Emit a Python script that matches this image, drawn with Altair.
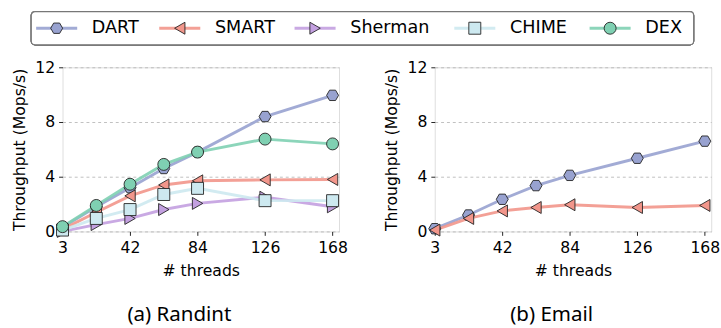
import altair as alt
import pandas as pd

threads = [3, 21, 42, 63, 84, 126, 168]
systems = ["DART", "SMART", "Sherman", "CHIME", "DEX"]
colors = ["#98a2d0", "#f2968b", "#c3a0e0", "#cde9f0", "#7fd0b2"]

# (a) Randint
randint_dart = [0.3, 1.8, 3.2, 4.6, 5.8, 8.4, 9.95]
randint_smart = [0.15, 1.4, 2.6, 3.4, 3.7, 3.77, 3.8]
randint_sherman = [0.0, 0.5, 0.95, 1.6, 2.05, 2.5, 1.8]
randint_chime = [0.1, 0.95, 1.6, 2.7, 3.15, 2.25, 2.25]
randint_dex = [0.35, 1.9, 3.45, 4.9, 5.8, 6.75, 6.4]

# (b) Email
email_dart = [0.2, 1.2, 2.35, 3.35, 4.1, 5.35, 6.6]
email_smart = [0.1, 0.95, 1.5, 1.75, 1.95, 1.75, 1.9]

x_ticks = [0, 42, 84, 126, 168]
y_ticks = [0, 4, 8, 12]

HEX = "M1,0 L0.5,0.866 L-0.5,0.866 L-1,0 L-0.5,-0.866 L0.5,-0.866 Z"
shapes = [HEX, "triangle-left", "triangle-right", "square", "circle"]

color_scale = alt.Scale(domain=systems, range=colors)
shape_scale = alt.Scale(domain=systems, range=shapes)


def frame(series):
    rows = []
    for name, vals in series:
        for t, v in zip(threads, vals):
            rows.append({"system": name, "threads": t, "tput": v})
    return pd.DataFrame(rows)


df_a = frame([("DART", randint_dart), ("SMART", randint_smart),
              ("Sherman", randint_sherman), ("CHIME", randint_chime),
              ("DEX", randint_dex)])
df_b = frame([("DART", email_dart), ("SMART", email_smart)])

FONT = "DejaVu Sans"


def panel(df, caption):
    base = alt.Chart(df).transform_calculate(
        pos="datum.threads == 3 ? 0 : datum.threads"
    )
    x = alt.X("pos:Q", scale=alt.Scale(domain=[0, 172], nice=False, zero=False),
              axis=alt.Axis(values=x_ticks, title="# threads",
                            labelExpr="datum.value == 0 ? '3' : datum.label",
                            grid=False, domain=False, tickSize=4,
                            tickColor="#222", labelFontSize=16,
                            titleFontSize=16, labelFont=FONT, titleFont=FONT,
                            titleFontWeight="normal", labelColor="#000",
                            titleColor="#000", labelPadding=5, titlePadding=7,
                            labelFlush=False, labelOverlap=False))
    y = alt.Y("tput:Q", scale=alt.Scale(domain=[0, 12], nice=False),
              axis=alt.Axis(values=y_ticks, title="Throughput (Mops/s)",
                            grid=True, gridDash=[3, 3], gridColor="#b0b0b0",
                            gridWidth=0.8, domain=False, tickSize=4,
                            tickColor="#222", labelFontSize=16,
                            titleFontSize=16, labelFont=FONT, titleFont=FONT,
                            titleFontWeight="normal", labelColor="#000",
                            titleColor="#000", labelPadding=4, titlePadding=8,
                            labelFlush=False))
    lines = base.mark_line(strokeWidth=3, opacity=0.9).encode(
        x=x, y=y,
        color=alt.Color("system:N", scale=color_scale, legend=None),
        order=alt.Order("threads:Q"),
    )
    points = base.mark_point(filled=True, size=150, stroke="#222",
                             strokeWidth=0.9, opacity=1).encode(
        x=x, y=y,
        color=alt.Color("system:N", scale=color_scale, legend=None),
        shape=alt.Shape("system:N", scale=shape_scale, legend=None),
    )
    return alt.layer(lines, points).properties(
        width=283, height=168,
        title=alt.TitleParams(caption, orient="bottom", font="Noto Sans",
                              fontSize=21, fontWeight="normal", color="#000",
                              offset=27, frame="bounds", anchor="middle"),
    )


leg_df = pd.DataFrame({"system": systems})
leg_base = alt.Chart(leg_df).transform_calculate(
    w="length(datum.system) * 12.5 + 76"
).transform_window(
    cum="sum(w)", frame=[None, -1]
).transform_calculate(
    px="(datum.cum ? datum.cum : 0) - 6",
    px1="datum.px - 21",
    px2="datum.px + 21",
    tx="datum.px + 36",
)
xs = alt.Scale(domain=[0, 646], range=[0, 646])
leg_box = alt.Chart(leg_df).mark_rect(
    fill="white", stroke="#777", strokeWidth=1.2, cornerRadius=4
).encode(
    x=alt.value(-32), x2=alt.value(646), y=alt.value(0), y2=alt.value(34)
)
leg_line = leg_base.mark_rule(strokeWidth=3, opacity=0.9).encode(
    x=alt.X("px1:Q", scale=xs, axis=None), x2="px2:Q",
    y=alt.value(17),
    color=alt.Color("system:N", scale=color_scale, legend=None),
)
leg_pt = leg_base.mark_point(filled=True, size=150, stroke="#222",
                             strokeWidth=0.9, opacity=1).encode(
    x=alt.X("px:Q", scale=xs, axis=None), y=alt.value(17),
    color=alt.Color("system:N", scale=color_scale, legend=None),
    shape=alt.Shape("system:N", scale=shape_scale, legend=None),
)
leg_txt = leg_base.mark_text(align="left", baseline="middle", fontSize=18,
                             font=FONT, color="#000").encode(
    x=alt.X("tx:Q", scale=xs, axis=None), y=alt.value(17),
    text="system:N",
)
legend = alt.layer(leg_box, leg_line, leg_pt, leg_txt).properties(
    width=646, height=34, view=alt.ViewBackground(stroke="transparent")
)

top = alt.hconcat(panel(df_a, "(a) Randint"), panel(df_b, "(b) Email"),
                  spacing=35)

chart = alt.vconcat(legend, top, spacing=12).properties(
    padding={"left": 11, "top": 6, "right": 0, "bottom": 0}
).configure_view(
    stroke="#222", strokeWidth=1
).configure(background="white")

chart.save("out.html", embed_options={"renderer": "svg", "actions": False})
